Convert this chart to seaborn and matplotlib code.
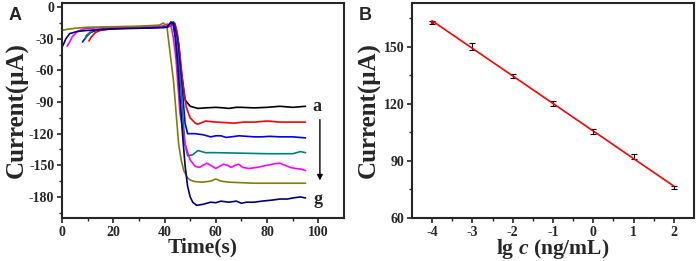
import numpy as np
import pandas as pd
import matplotlib
matplotlib.use("Agg")
import matplotlib.pyplot as plt
import seaborn as sns

# Pannello A: curve corrente-tempo (a..g)
t_a = [9.5, 11, 13, 16, 20, 30, 40, 42, 43.5, 44.5, 45.5, 46.5, 48, 50, 53, 56, 60, 63, 65, 68, 70, 75, 80, 85, 90, 95]
i_a = [-27, -24, -22, -21, -20, -19.5, -19, -18, -15, -20, -35, -60, -88, -94, -96, -95.5, -95, -95.5, -96, -95, -95, -95.5, -95, -94, -95, -94]

t_b = [10.5, 11.5, 13, 15, 18, 25, 41, 43, 44, 45, 46, 47, 48.5, 50, 52, 53, 56, 60, 64, 67, 71, 75, 80, 85, 90, 95]
i_b = [-32, -28, -24, -22, -21, -20, -19, -17, -15, -25, -45, -70, -95, -105, -110, -111, -108, -109, -109.5, -110, -109, -109, -108, -109, -109, -109]

t_c = [8, 9.5, 11, 13, 15, 20, 40, 43, 43.5, 45, 46, 47, 48, 49, 52, 55, 58, 60, 62, 64, 66, 69, 72, 75, 78, 81, 85, 90, 95]
i_c = [-33, -28, -24, -22, -21, -20, -19, -16, -14, -30, -55, -80, -110, -120, -120, -121, -123, -122, -122, -123.5, -123, -122, -122.5, -123, -123, -122.5, -123, -123, -124]

t_d = [9, 10.5, 12, 15, 20, 30, 41, 43, 44.5, 45.5, 46.5, 47.5, 48, 49, 51, 53, 56, 60, 70, 80, 85, 90, 93, 95]
i_d = [-30, -25, -22, -21, -20, -19.5, -19, -14, -30, -55, -80, -115, -130, -141, -140, -136, -138, -138, -138.5, -139, -139, -139, -137, -138]

t_e = [2, 3, 4, 6, 8, 10, 15, 20, 30, 39, 41, 42.5, 43.5, 44.5, 46, 48, 50, 52, 53.5, 55, 56.5, 58, 60, 61.5, 63, 64.5, 66, 67.5, 69, 70.5, 73, 76, 80, 83, 85, 87, 89, 91, 93, 95]
i_e = [-37, -33, -28, -23, -21, -20, -19.5, -19, -18.5, -18, -16, -17, -30, -50, -100, -130, -145, -151, -152, -150, -148, -150, -153, -151, -149, -150, -152, -150, -149, -152, -153, -152, -150, -148.5, -148, -150, -152, -153, -153.5, -155]

t_f = [0, 2, 5, 10, 20, 30, 38, 39.5, 40.5, 41, 42, 43.5, 44.5, 45.5, 46.5, 47.5, 49, 50, 52, 55, 58, 60, 62, 65, 70, 75, 85, 95]
i_f = [-22, -21, -20, -19, -18.5, -18, -17, -15, -17, -20, -40, -70, -100, -130, -145, -155, -162, -164, -165.5, -166, -165, -163, -165, -166, -166.5, -167, -167, -167]

t_g = [0, 0.8, 1.5, 3, 6, 10, 20, 30, 41, 42.5, 43.5, 44.2, 45, 46, 47, 48, 49, 50, 51, 52.5, 55, 58, 60, 62, 65, 68, 70, 72, 75, 78, 82, 85, 88, 90, 93, 95]
i_g = [-38, -34, -30, -25, -23, -22, -20.5, -20, -19, -14, -16, -30, -50, -85, -120, -150, -170, -180, -185, -188, -187, -185, -185.5, -184, -185, -184, -186, -185, -185, -184, -183, -182, -182, -181, -180, -181]

curve_names = ["a", "b", "c", "d", "e", "f", "g"]
curve_colors = ["#000000", "#ff0000", "#0000ff", "#008080", "#ff00ff", "#808000", "#000080"]

# Pannello B: calibrazione
lgc = [-4, -3, -2, -1, 0, 1, 2]
current = [162.8, 150.2, 134.7, 120.0, 105.4, 92.3, 76.0]
err = [0.6, 2.0, 1.0, 1.3, 1.5, 1.5, 1.0]

sns.set_style("ticks")
plt.rcParams["font.family"] = ["Liberation Serif", "DejaVu Serif"]
plt.rcParams["font.weight"] = "bold"
plt.rcParams["axes.unicode_minus"] = False
plt.rcParams["mathtext.fontset"] = "custom"
plt.rcParams["mathtext.it"] = "Liberation Serif:italic:bold"
plt.rcParams["mathtext.rm"] = "Liberation Serif:bold"

frames = []
for name, t, i in zip(curve_names, [t_a, t_b, t_c, t_d, t_e, t_f, t_g],
                      [i_a, i_b, i_c, i_d, i_e, i_f, i_g]):
    frames.append(pd.DataFrame({"t": t, "i": i, "curve": name}))
df_a = pd.concat(frames, ignore_index=True)

fig = plt.figure(figsize=(6.99, 2.61), dpi=100)
ax1 = fig.add_axes([62/699, 1-218/261, 282/699, 215/261])
ax2 = fig.add_axes([412/699, 1-218/261, 282/699, 215/261])

sns.lineplot(data=df_a, x="t", y="i", hue="curve", palette=curve_colors,
             sort=False, estimator=None, lw=1.2, legend=False, ax=ax1)
ax1.set_xlim(0, 110)
ax1.set_ylim(-200, 4)
ax1.set_xticks([0, 20, 40, 60, 80, 100])
ax1.set_xticks(np.arange(10, 110, 20), minor=True)
ax1.set_yticks([0, -30, -60, -90, -120, -150, -180])
ax1.set_yticks(np.arange(-195, 0, 30), minor=True)
ax1.set_xlabel("Time(s)", fontsize=15.5, fontweight="bold", labelpad=-1)
ax1.set_ylabel("Current(μA)", fontsize=18, fontweight="bold", labelpad=0)
ax1.text(99.5, -94, "a", fontsize=13, fontweight="bold", ha="center", va="center")
ax1.text(100, -182, "g", fontsize=13, fontweight="bold", ha="center", va="center")
ax1.annotate("", xy=(100.6, -167), xytext=(100.6, -104),
             arrowprops=dict(arrowstyle="-|>", color="black", lw=1.0, mutation_scale=8))

ax2.errorbar(lgc, current, yerr=err, fmt="none", ecolor="black", elinewidth=0.8,
             capsize=2, capthick=0.8)
fit = np.polyfit(lgc, current, 1)
fit_df = pd.DataFrame({"x": lgc, "y": np.polyval(fit, lgc)})
sns.lineplot(data=fit_df, x="x", y="y", color="#ff0000", lw=1.2, ax=ax2)
ax2.plot(lgc[0], current[0], "s", color="#cc0000", ms=2)
ax2.set_xlim(-4.5, 2.5)
ax2.set_ylim(60, 173)
ax2.set_xticks(lgc)
ax2.set_xticks(np.arange(-3.5, 2.5, 1), minor=True)
ax2.set_yticks([60, 90, 120, 150])
ax2.set_yticks([75, 105, 135, 165], minor=True)
ax2.set_xlabel("lg $c$ (ng/mL)", fontsize=15.5, fontweight="bold", labelpad=-1)
ax2.set_ylabel("Current(μA)", fontsize=18, fontweight="bold", labelpad=2)

for ax in (ax1, ax2):
    for s in ax.spines.values():
        s.set_linewidth(1.5)
        s.set_visible(True)
    ax.tick_params(which="major", direction="out", length=3.5, width=1.2,
                   labelsize=10, pad=2)
    ax.tick_params(which="minor", direction="out", length=2, width=1.0)
    for lab in ax.get_xticklabels() + ax.get_yticklabels():
        lab.set_fontweight("bold")

fig.text(15/699, 1-15/261, "A", fontsize=13, fontweight="bold",
         family="Liberation Sans", ha="center", va="center")
fig.text(365/699, 1-15/261, "B", fontsize=13, fontweight="bold",
         family="Liberation Sans", ha="center", va="center")

fig.savefig("out.png", dpi=100)
